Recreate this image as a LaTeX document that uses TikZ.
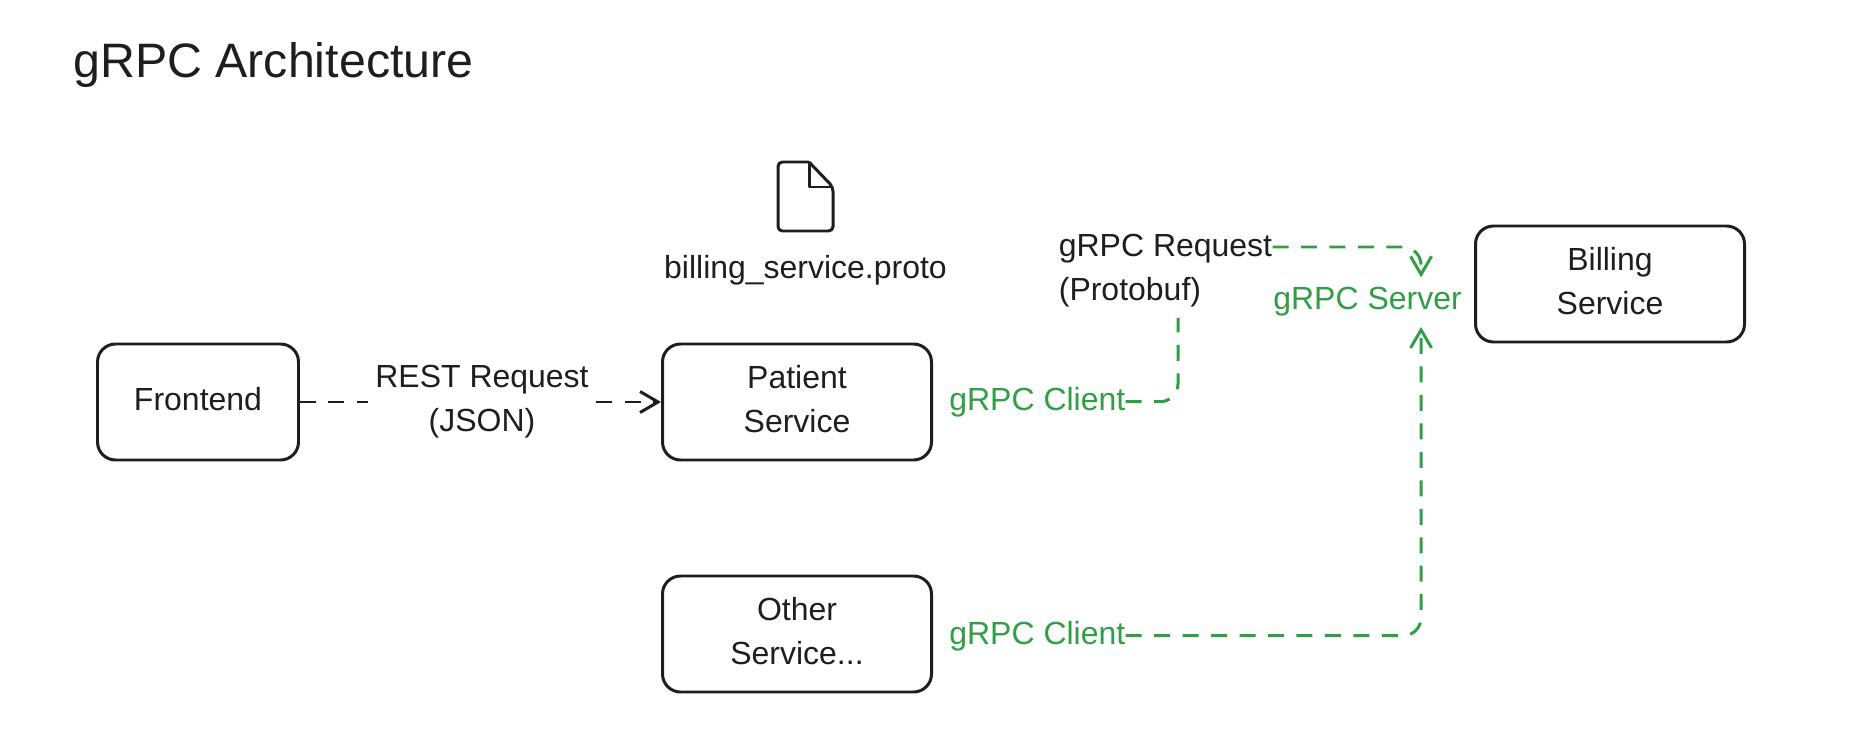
\documentclass[tikz,border=0pt]{standalone}
\usepackage{fontspec}
\setmainfont{Liberation Sans}
\usetikzlibrary{arrows.meta}
\definecolor{ink}{HTML}{1E1E1E}
\definecolor{grpcgreen}{HTML}{2F9E44}
\tikzset{
  svcbox/.style={draw=ink, line width=1.7pt, rounded corners=.36cm, minimum height=2.32cm,
    align=center, text=ink, font=\fontsize{18.2}{25}\selectfont, text depth=3.5pt},
  lbl/.style={text=ink, font=\fontsize{18.2}{25}\selectfont, inner xsep=0pt, inner ysep=5.7pt},
  grpclbl/.style={lbl, text=grpcgreen},
  flow/.style={line width=1.7pt, dash pattern=on 9.1pt off 7.1pt,
    -{Straight Barb[length=.36cm,width=.42cm]}},
  restflow/.style={flow, draw=ink},
  grpcflow/.style={flow, draw=grpcgreen, rounded corners=.36cm}
}
\begin{document}
\begin{tikzpicture}
      \useasboundingbox (0,0) rectangle (37.32,15);

      \node[anchor=base west, inner sep=0pt, text=ink, font=\fontsize{27.5}{32}\selectfont] (title) at (1.46,13.44) {gRPC Architecture};

      \node[svcbox, minimum width=4.02cm] (frontend) at (3.96,6.96) {Frontend};
      \node[svcbox, minimum width=5.38cm] (patient)  at (15.94,6.96) {Patient\\Service};
      \node[svcbox, minimum width=5.38cm] (other)    at (15.94,2.32) {Other\\Service...};
      \node[svcbox, minimum width=5.38cm] (billing)  at (32.2,9.32) {Billing\\Service};

      % proto file
      \draw[draw=ink, line width=1.7pt, rounded corners=2.5pt, line join=round]
        (16.18,11.76) -- (15.56,11.76) -- (15.56,10.38) -- (16.66,10.38) -- (16.66,11.26) -- (16.18,11.76);
      \draw[draw=ink, line width=1.7pt, line join=round] (16.18,11.76) -- (16.18,11.26) -- (16.66,11.26);
      \node[lbl, anchor=base] (proto) at (16.11,9.42) {billing\_service.proto};

      \node[lbl, align=center, inner xsep=4pt] (rest) at (9.64,6.96) {REST Request\\(JSON)};
      \node[lbl, align=left] (request) at (23.31,9.58) {gRPC Request\\(Protobuf)};

      \node[grpclbl, anchor=base west] (client1) at (18.98,6.8) {gRPC Client};
      \node[grpclbl, anchor=base west] (client2) at (18.98,2.12) {gRPC Client};
      \node[grpclbl, anchor=base west] (server)  at (25.46,8.8) {gRPC Server};

      \draw[restflow, -] (frontend.east) -- (rest.west);
      \draw[restflow] (rest.east) -- (patient.west);

      \draw[grpcflow, -] (client1.east) -| ([xshift=.25cm]request.south);
      \draw[grpcflow] ([yshift=.48cm]request.east) -| ([xshift=1.07cm]server.north);
      \draw[grpcflow] (client2.east) -| ([xshift=1.07cm]server.south);
    \end{tikzpicture}
\end{document}
